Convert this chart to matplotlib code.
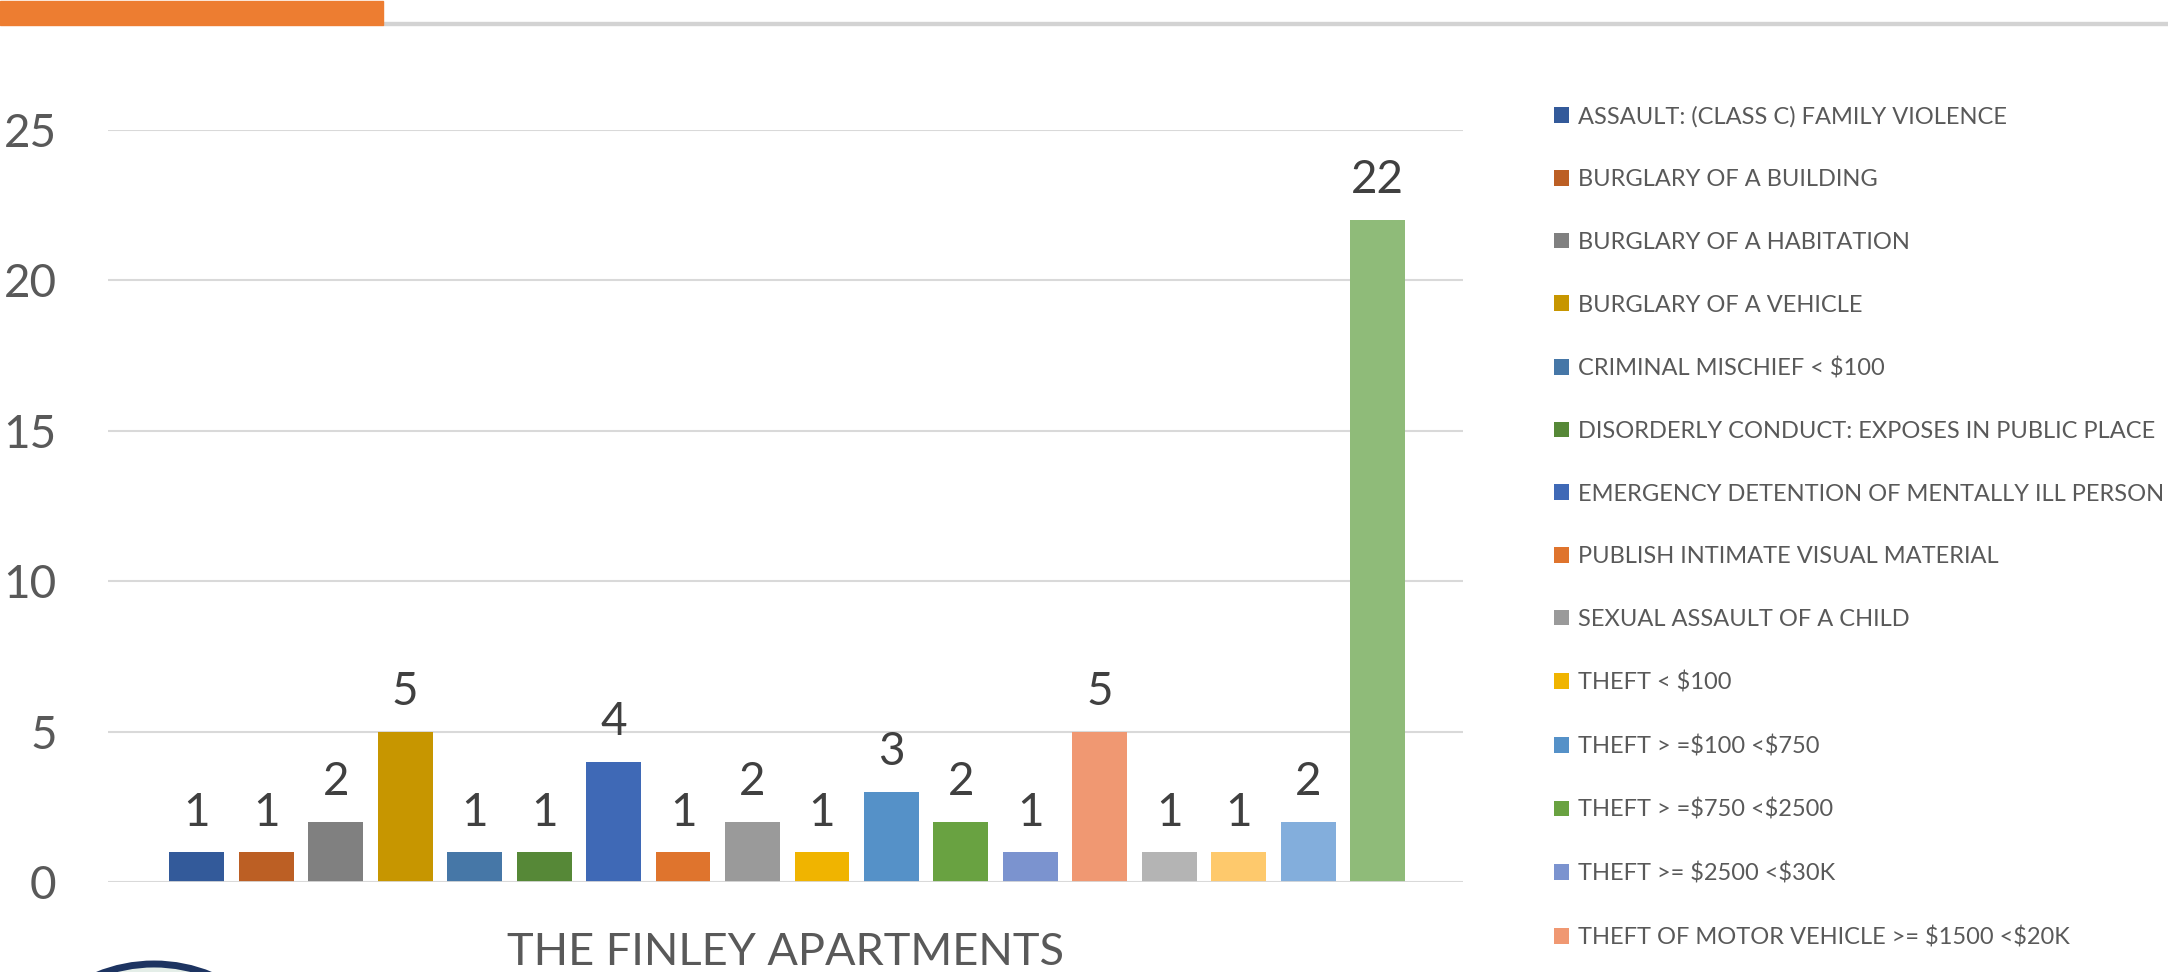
import matplotlib
matplotlib.use("Agg")
import matplotlib.pyplot as plt
from matplotlib.patches import Rectangle, Ellipse

plt.rcParams['font.family'] = ['Lato', 'DejaVu Sans']

# offence types, in bar order (only the first 14 are legible in the legend)
offences = [
    "ASSAULT: (CLASS C) FAMILY VIOLENCE",
    "BURGLARY OF A BUILDING",
    "BURGLARY OF A HABITATION",
    "BURGLARY OF A VEHICLE",
    "CRIMINAL MISCHIEF < \\$100",
    "DISORDERLY CONDUCT: EXPOSES IN PUBLIC PLACE",
    "EMERGENCY DETENTION OF MENTALLY ILL PERSON",
    "PUBLISH INTIMATE VISUAL MATERIAL",
    "SEXUAL ASSAULT OF A CHILD",
    "THEFT < \\$100",
    "THEFT > =\\$100 <\\$750",
    "THEFT > =\\$750 <\\$2500",
    "THEFT >= \\$2500 <\\$30K",
    "THEFT OF MOTOR VEHICLE >= \\$1500 <\\$20K",
    "", "", "", "",
]
counts = [1, 1, 2, 5, 1, 1, 4, 1, 2, 1, 3, 2, 1, 5, 1, 1, 2, 22]
colors = ['#335A9A', '#BC5F24', '#808080', '#C79600', '#4677A7', '#568837',
          '#3F69B6', '#DF742D', '#9A9A9A', '#F0B400', '#5591C8', '#69A241',
          '#7B93CF', '#F09872', '#B4B4B4', '#FEC96C', '#83AEDC', '#8FBB79']
yticks = [0, 5, 10, 15, 20, 25]
group_name = "THE FINLEY APARTMENTS"

W, H = 2168, 972
fig = plt.figure(figsize=(W / 100, H / 100), dpi=100)
ax = fig.add_axes([108 / W, 1 - 882 / H, (1463 - 108) / W, (882 - 129.5) / H])

handles = []
for i, (name, n, c) in enumerate(zip(offences, counts, colors)):
    b = ax.bar(i, n, width=0.79, color=c, label=name, zorder=3)
    handles.append(b)
    ax.annotate(str(n), (i, n), xytext=(0, 19), textcoords='offset points',
                ha='center', va='baseline', fontsize=33, color='#404040')

ax.set_xlim(-1.28, len(counts) - 1 + 1.23)
ax.set_ylim(0, 25)
ax.set_yticks(yticks)
ax.grid(axis='y', color='#D9D9D9', linewidth=1.5, zorder=0)
ax.axhline(0, color='#D9D9D9', linewidth=2, zorder=4)
ax.set_xticks([])
for s in ax.spines.values():
    s.set_visible(False)
ax.tick_params(axis='y', length=0, pad=37, labelsize=33, labelcolor='#595959')
ax.set_xlabel(group_name, fontsize=32.5, color='#595959', labelpad=36)

leg = fig.legend(handles[:14], offences[:14], loc='upper left',
                 bbox_to_anchor=(1554 / W, 1 - 106 / H), frameon=False,
                 fontsize=17, labelcolor='#595959', handlelength=0.64,
                 handleheight=0.64, handletextpad=0.36, labelspacing=1.765,
                 borderpad=0, borderaxespad=0)

# header strip
fig.patches.append(Rectangle((383 / W, 1 - 25 / H), 1 - 383 / W, 3 / H,
                             transform=fig.transFigure, color='#D3D3D3'))
fig.patches.append(Rectangle((0, 1 - 25 / H), 383 / W, 24 / H,
                             transform=fig.transFigure, color='#ED7D31'))

# edge of the logo peeking in at the bottom left
fig.patches.append(Ellipse((154 / W, 1 - 1114 / H), 300 / W, 300 / H,
                           transform=fig.transFigure, facecolor='#E4EEE8',
                           edgecolor='#1D3461', linewidth=5))

fig.savefig('out.png', dpi=100)
